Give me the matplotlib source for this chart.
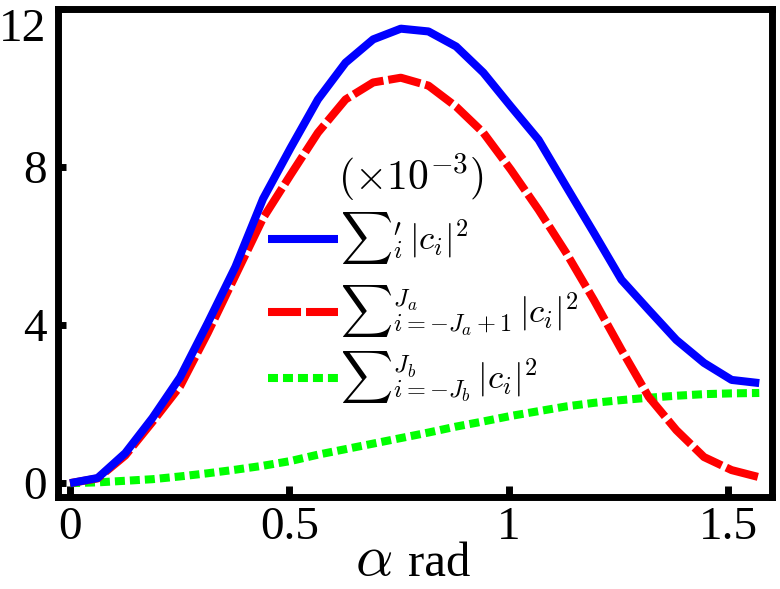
import numpy as np
import matplotlib
matplotlib.use("Agg")
import matplotlib.pyplot as plt
from matplotlib.lines import Line2D

# alpha grid (rad) and the three summed probabilities (x 1e-3)
alpha = [0.000, 0.063, 0.126, 0.188, 0.251, 0.314, 0.377, 0.440, 0.503,
         0.565, 0.628, 0.691, 0.754, 0.817, 0.880, 0.942, 1.005, 1.068,
         1.131, 1.194, 1.257, 1.319, 1.382, 1.445, 1.508, 1.571]
sum_prime = [0.00, 0.13, 0.76, 1.65, 2.68, 4.05, 5.47, 7.19, 8.48, 9.70,
             10.63, 11.22, 11.49, 11.42, 11.04, 10.38, 9.52, 8.68, 7.50,
             6.33, 5.14, 4.38, 3.62, 3.04, 2.61, 2.53]
sum_ja = [0.00, 0.12, 0.70, 1.55, 2.45, 3.80, 5.25, 6.70, 7.80, 8.86,
          9.70, 10.13, 10.25, 10.05, 9.52, 8.86, 7.92, 6.91, 5.82,
          4.63, 3.37, 2.18, 1.34, 0.66, 0.33, 0.15]
sum_jb = [0.00, 0.02, 0.06, 0.10, 0.17, 0.25, 0.34, 0.44, 0.56, 0.72,
          0.86, 1.00, 1.14, 1.28, 1.43, 1.56, 1.70, 1.82, 1.94, 2.03,
          2.10, 2.16, 2.21, 2.25, 2.27, 2.28]

x_ticks = [0, 0.5, 1, 1.5]
x_ticklabels = ["0", "0.5", "1", "1.5"]
y_ticks = [0, 4, 8, 12]
y_ticklabels = ["0", "4", "8", "12"]

# legend labels: sum sign + limits and summand
label_tails = [r"${}^{\prime}_{i}\,|c_i|^2$",
               r"${}^{J_a}_{i=-J_a+1}\,|c_i|^2$",
               r"${}^{J_b}_{i=-J_b}\,|c_i|^2$"]
scale_note = r"$(\times 10^{-3})$"

plt.rcParams["font.family"] = ["Liberation Serif", "DejaVu Serif"]
plt.rcParams["mathtext.fontset"] = "cm"

LW = 5.8
styles = [
    dict(color="#0000ff", lw=LW, solid_capstyle="butt"),
    dict(color="#ff0000", lw=LW, dashes=(4.1, 0.62), gapcolor="white"),
    dict(color="#00ff00", lw=LW, dashes=(1.24, 0.62)),
]

fig = plt.figure(figsize=(7.8, 5.89), dpi=100)
ax = fig.add_axes([57.5 / 780, 1 - 497 / 589, (772 - 57.5) / 780, (497 - 8.5) / 589])

ax.plot(alpha, sum_jb, zorder=2, **styles[2])
ax.plot(alpha, sum_ja, zorder=3, **styles[1])
ax.plot(alpha, sum_prime, zorder=4, **styles[0])

ax.set_xlim(-0.0285, 1.600)
ax.set_ylim(-0.35, 12.0)

for sp in ax.spines.values():
    sp.set_linewidth(5)

ax.set_xticks(x_ticks, labels=x_ticklabels)
ax.set_yticks(y_ticks, labels=y_ticklabels)
ax.tick_params(axis="both", direction="in", width=5, labelsize=34,
               top=False, right=False)
ax.tick_params(axis="x", length=8, pad=7)
ax.tick_params(axis="y", length=5.5, pad=8)
ax.get_yticklabels()[-1].set_verticalalignment("top")

# x label: big italic alpha plus "rad"
fig.text(355 / 780, 1 - 575 / 589, r"$\alpha$", fontsize=42, va="baseline", ha="left")
fig.text(408 / 780, 1 - 576 / 589, "rad", fontsize=35, va="baseline", ha="left")


# legend drawn by hand in axes pixel coordinates
def ax_frac(px, py):
    return (px - 57.5) / 714.5, (497 - py) / 488.5


renderer = fig.canvas.get_renderer()
handle_y = [239, 312, 378]
for i, hy in enumerate(handle_y):
    x0, y0 = ax_frac(268, hy)
    x1, _ = ax_frac(338, hy)
    ln = Line2D([x0, x1], [y0, y0], transform=ax.transAxes, clip_on=False, **styles[i])
    ax.add_line(ln)
    sx, sy = ax_frac(340, hy - 1)
    sig = ax.text(sx, sy, r"$\sum$", transform=ax.transAxes, fontsize=26,
                  va="center", ha="left")
    bb = sig.get_window_extent(renderer)
    x_tail = ax.transAxes.inverted().transform((bb.x1, 0))[0]
    _, ty = ax_frac(340, hy + 11)
    ax.text(x_tail, ty, label_tails[i], transform=ax.transAxes, fontsize=25,
            va="baseline", ha="left")

tx, ty = ax_frac(338, 190)
ax.text(tx, ty, scale_note, transform=ax.transAxes, fontsize=30, va="baseline", ha="left")

fig.savefig("out.png", dpi=100)
